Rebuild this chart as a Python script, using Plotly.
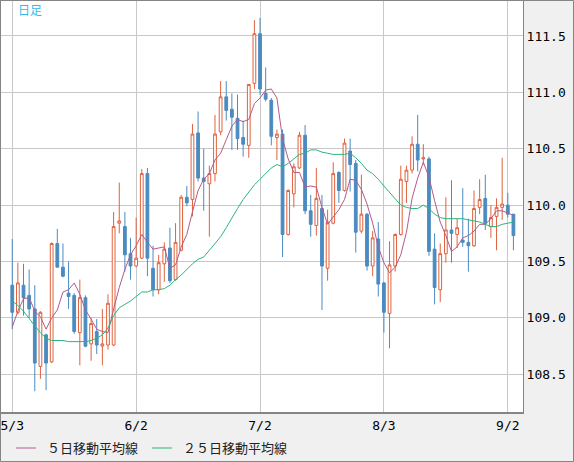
import plotly.graph_objects as go

# daily USD/JPY candles, 5/3 - 9/3
dates = ["5/3", "5/4", "5/5", "5/6", "5/7", "5/10", "5/11", "5/12", "5/13", "5/14",
         "5/17", "5/18", "5/19", "5/20", "5/21", "5/24", "5/25", "5/26", "5/27", "5/28",
         "5/31", "6/1", "6/2", "6/3", "6/4", "6/7", "6/8", "6/9", "6/10", "6/11",
         "6/14", "6/15", "6/16", "6/17", "6/18", "6/21", "6/22", "6/23", "6/24", "6/25",
         "6/28", "6/29", "6/30", "7/1", "7/2", "7/5", "7/6", "7/7", "7/8", "7/9",
         "7/12", "7/13", "7/14", "7/15", "7/16", "7/19", "7/20", "7/21", "7/22", "7/23",
         "7/26", "7/27", "7/28", "7/29", "7/30", "8/2", "8/3", "8/4", "8/5", "8/6",
         "8/9", "8/10", "8/11", "8/12", "8/13", "8/16", "8/17", "8/18", "8/19", "8/20",
         "8/23", "8/24", "8/25", "8/26", "8/27", "8/30", "8/31", "9/1", "9/2", "9/3"]

opens = [109.29, 109.05, 109.29, 109.20, 109.08, 108.57, 108.85, 108.61, 109.66, 109.45,
         109.22, 109.20, 108.87, 109.18, 108.77, 108.88, 108.75, 108.76, 108.76, 109.84,
         109.81, 109.57, 109.46, 109.53, 110.28, 109.44, 109.25, 109.48, 109.62, 109.34,
         109.60, 110.07, 110.05, 110.64, 110.24, 110.19, 110.28, 110.65, 110.96, 110.85,
         110.77, 110.60, 110.53, 111.08, 111.52, 110.99, 110.93, 110.60, 110.63, 109.74,
         110.10, 110.33, 110.62, 109.95, 109.82, 109.97, 109.44, 109.84, 110.29, 110.13,
         110.48, 110.37, 109.77, 109.92, 109.46, 109.70, 109.31, 109.04, 109.46, 109.74,
         110.21, 110.31, 110.54, 110.41, 110.41, 109.61, 109.25, 109.57, 109.78, 109.74,
         109.69, 109.67, 109.64, 109.98, 110.06, 109.81, 109.90, 109.98, 110.00, 109.92]

highs = [109.70, 109.49, 109.48, 109.43, 109.29, 109.06, 108.86, 109.67, 109.79, 109.66,
         109.50, 109.22, 109.34, 109.20, 109.00, 108.99, 109.08, 109.21, 109.94, 110.20,
         109.94, 109.71, 109.89, 110.32, 110.33, 109.64, 109.56, 109.67, 109.80, 109.84,
         110.09, 110.17, 110.72, 110.83, 110.50, 110.35, 110.80, 111.10, 111.10, 110.99,
         110.98, 110.75, 111.07, 111.64, 111.66, 111.22, 110.95, 110.67, 110.67, 110.14,
         110.37, 110.65, 110.71, 110.09, 110.33, 110.09, 109.96, 110.38, 110.30, 110.59,
         110.59, 110.40, 110.27, 109.93, 109.77, 109.85, 109.32, 109.68, 109.75, 110.35,
         110.35, 110.61, 110.80, 110.54, 110.43, 109.75, 109.66, 110.07, 110.22, 109.88,
         110.15, 109.88, 110.13, 110.23, 110.27, 110.00, 110.06, 110.42, 110.11, 109.92]

lows = [108.90, 109.03, 109.02, 109.00, 108.35, 108.46, 108.36, 108.60, 109.45, 109.36,
        109.08, 108.86, 108.58, 108.74, 108.62, 108.68, 108.58, 108.72, 108.75, 109.75,
        109.41, 109.34, 109.45, 109.52, 109.37, 109.19, 109.21, 109.32, 109.31, 109.33,
        109.59, 109.99, 109.90, 110.21, 109.95, 109.72, 110.21, 110.62, 110.75, 110.49,
        110.49, 110.43, 110.42, 111.03, 110.98, 110.92, 110.53, 110.40, 109.54, 109.73,
        109.98, 110.32, 109.92, 109.72, 109.73, 109.07, 109.33, 109.83, 110.02, 110.12,
        110.12, 109.58, 109.75, 109.42, 109.37, 109.19, 108.87, 108.73, 109.41, 109.73,
        110.02, 110.28, 110.30, 110.36, 109.55, 109.12, 109.14, 109.49, 109.49, 109.62,
        109.63, 109.41, 109.63, 109.92, 109.78, 109.71, 109.60, 109.87, 109.89, 109.60]

closes = [109.05, 109.31, 109.18, 109.08, 108.60, 109.05, 108.60, 109.66, 109.45, 109.37,
          109.19, 108.88, 109.18, 108.75, 108.95, 108.76, 108.77, 109.13, 109.81, 109.86,
          109.56, 109.46, 109.53, 110.28, 109.53, 109.25, 109.49, 109.61, 109.33, 109.67,
          110.07, 110.02, 110.63, 110.24, 110.21, 110.28, 110.63, 110.96, 110.84, 110.78,
          110.59, 110.54, 111.07, 111.52, 111.03, 110.94, 110.61, 110.63, 109.74, 110.13,
          110.34, 110.62, 109.95, 109.83, 110.06, 109.46, 109.85, 110.28, 110.13, 110.55,
          110.36, 109.76, 109.92, 109.46, 109.71, 109.30, 109.05, 109.47, 109.74, 110.23,
          110.31, 110.54, 110.40, 110.42, 109.59, 109.27, 109.57, 109.78, 109.75, 109.80,
          109.67, 109.64, 109.97, 110.05, 109.84, 109.89, 109.98, 110.01, 109.92, 109.73]

ma5 = [108.92, 109.06, 109.17, 109.18, 109.06, 109.01, 108.90, 109.00, 109.07, 109.23,
       109.25, 109.31, 109.21, 109.07, 108.99, 108.90, 108.88, 108.87, 109.08, 109.27,
       109.43, 109.56, 109.64, 109.74, 109.67, 109.61, 109.62, 109.63, 109.44, 109.47,
       109.63, 109.74, 109.94, 110.13, 110.23, 110.28, 110.40, 110.46, 110.58, 110.70,
       110.76, 110.74, 110.76, 110.90, 110.95, 111.02, 111.03, 110.95, 110.59, 110.41,
       110.29, 110.29, 110.16, 110.17, 110.16, 109.98, 109.83, 109.90, 109.96, 110.05,
       110.23, 110.22, 110.14, 110.01, 109.84, 109.63, 109.49, 109.40, 109.45, 109.56,
       109.76, 110.06, 110.24, 110.38, 110.25, 110.04, 109.85, 109.73, 109.59, 109.63,
       109.71, 109.73, 109.77, 109.83, 109.83, 109.88, 109.95, 109.95, 109.93, 109.91]

ma25 = [109.15, 109.11, 109.06, 109.00, 108.93, 108.87, 108.82, 108.80, 108.80, 108.80,
        108.79, 108.79, 108.79, 108.79, 108.80, 108.82, 108.85, 108.91, 109.02, 109.09,
        109.12, 109.15, 109.19, 109.23, 109.23, 109.25, 109.25, 109.26, 109.29, 109.34,
        109.38, 109.43, 109.48, 109.52, 109.54, 109.60, 109.66, 109.72, 109.80, 109.89,
        109.97, 110.05, 110.12, 110.18, 110.23, 110.28, 110.33, 110.36, 110.34, 110.37,
        110.41, 110.45, 110.46, 110.49, 110.49, 110.47, 110.46, 110.45, 110.45, 110.45,
        110.46, 110.42, 110.37, 110.31, 110.28, 110.23, 110.17, 110.11, 110.05, 110.00,
        109.98, 109.97, 109.97, 110.00, 109.97, 109.92, 109.89, 109.88, 109.88, 109.88,
        109.88, 109.87, 109.86, 109.85, 109.83, 109.81, 109.81, 109.83, 109.84, 109.85]

tick_dates = ["5/3", "6/2", "7/2", "8/3", "9/2"]

UP = "#e0623e"
DOWN = "#4b8bc0"
MA5_COLOR = "#b65a88"
MA25_COLOR = "#2bb57a"
GRID = "#c8c8c8"
FRAME = "#858585"

# plot area is 522 x 411 px, starting 1 px from the top-left corner
PW, PH = 522, 411


def px(x):
    return (x - 1) / PW


def py(y):
    return (412 - y) / PH


fig = go.Figure()
fig.add_trace(go.Candlestick(
    x=dates, open=opens, high=highs, low=lows, close=closes,
    increasing=dict(line=dict(color=UP, width=1), fillcolor="white"),
    decreasing=dict(line=dict(color=DOWN, width=1), fillcolor=DOWN),
    whiskerwidth=0, showlegend=False, hoverinfo="skip",
))
fig.add_trace(go.Scatter(x=dates, y=ma5, mode="lines", name="５日移動平均線",
                         line=dict(color=MA5_COLOR, width=1)))
fig.add_trace(go.Scatter(x=dates, y=ma25, mode="lines", name="２５日移動平均線",
                         line=dict(color=MA25_COLOR, width=1)))

# outer frame of the whole picture
fig.add_shape(type="rect", xref="paper", yref="paper",
              x0=px(0.5), x1=px(573.5), y0=py(461.5), y1=py(0.5),
              line=dict(color=FRAME, width=1), fillcolor="rgba(0,0,0,0)", layer="above")

# legend drawn below the x axis
legend_items = [("５日移動平均線", MA5_COLOR, 16), ("２５日移動平均線", MA25_COLOR, 152)]
for label, color, x0 in legend_items:
    fig.add_shape(type="line", xref="paper", yref="paper",
                  x0=px(x0), x1=px(x0 + 20), y0=py(448), y1=py(448),
                  line=dict(color=color, width=1))
    fig.add_annotation(text=label, xref="paper", yref="paper", x=px(x0 + 29), y=py(448),
                       xanchor="left", yanchor="middle", showarrow=False,
                       font=dict(family="Noto Sans CJK JP", size=13, color="#222222"))

fig.add_annotation(text="日足", xref="paper", yref="paper", x=px(16), y=py(10),
                   xanchor="left", yanchor="middle", showarrow=False,
                   font=dict(family="Noto Sans CJK JP", size=12, color="#35b8ec"))

fig.update_layout(
    width=574, height=462,
    margin=dict(l=1, r=51, t=1, b=50),
    paper_bgcolor="#f0f0f0", plot_bgcolor="white",
    font=dict(family="DejaVu Sans Mono", size=13, color="black"),
    showlegend=False,
    xaxis=dict(type="category", range=[-2.0, 90.7], rangeslider=dict(visible=False),
               tickmode="array", tickvals=tick_dates, ticktext=tick_dates,
               showgrid=True, gridcolor=GRID, gridwidth=1, ticks="",
               showline=True, linecolor=FRAME, linewidth=2, mirror=True,
               zeroline=False, fixedrange=True, automargin=False),
    yaxis=dict(side="right", range=[108.166, 111.81], tick0=108.5, dtick=0.5, tickformat=".1f",
               showgrid=True, gridcolor=GRID, gridwidth=1, ticks="",
               showline=True, linecolor=FRAME, linewidth=1, mirror=True,
               zeroline=False, fixedrange=True, automargin=False),
)

# the page's default body margin would push the figure 8px off the window
fig.write_html("out.html", config=dict(displayModeBar=False),
               post_script="document.body.style.margin = '0';")
